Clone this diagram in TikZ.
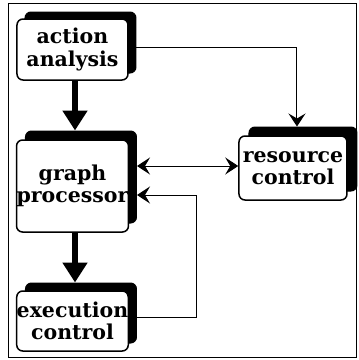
\documentclass[tikz,border=0pt]{standalone}
\usepackage{fontspec}
\setmainfont{DejaVu Serif}
\usetikzlibrary{arrows.meta,calc}

\tikzset{
  front/.style={draw=black, line width=1.5pt, fill=white, rounded corners=6pt,
    inner sep=0pt, align=center,
    font=\fontsize{20.5}{22.5}\selectfont\bfseries},
  backing/.style={fill=black, draw=black, line width=1pt, rounded corners=6pt, inner sep=0pt},
  heavy/.style={line width=6pt, -{Triangle[length=20pt,width=24pt]}},
  light/.style={line width=1pt, -{Stealth[length=13pt,width=17pt,inset=5pt]}},
  lightboth/.style={line width=1pt, {Stealth[length=13pt,width=17pt,inset=5pt]}-{Stealth[length=13pt,width=17pt,inset=5pt]}},
}

\begin{document}
\begin{tikzpicture}[x=1pt, y=-1pt]
  \useasboundingbox (0,0) rectangle (359,360);
  % outer frame
  \draw[line width=0.8pt] (8,3) rectangle (356.5,357.5);

  % shadow plates behind each box
  \node[backing, minimum width=111pt, minimum height=61pt] (aash) at (80.5,42.5) {};
  \node[backing, minimum width=111pt, minimum height=92pt] (gpsh) at (81,177) {};
  \node[backing, minimum width=111pt, minimum height=60pt] (ecsh) at (81,313) {};
  \node[backing, minimum width=108pt, minimum height=64pt] (rcsh) at (303,159) {};

  % front boxes
  \node[front, minimum width=111pt, minimum height=61pt] (aa) at (72.5,49.5) {action\\analysis};
  \node[front, minimum width=111pt, minimum height=92pt] (gp) at (72.5,186) {graph\\processor};
  \node[front, minimum width=111pt, minimum height=60pt] (ec) at (72.5,321) {execution\\control};
  \node[front, minimum width=108pt, minimum height=64pt] (rc) at (293,168) {resource\\control};

  % heavy control flow
  \draw[heavy] ([xshift=2.5pt]aa.south) -- ([xshift=2.5pt]aa.south |- gpsh.north);
  \draw[heavy] ([xshift=2.5pt]gp.south) -- ([xshift=2.5pt]gp.south |- ecsh.north);

  % light links
  \coordinate (rcin) at ([xshift=-6pt]rcsh.north);
  \draw[light] ([yshift=2.5pt]aa.east) -| (rcin);
  \draw[lightboth] ([yshift=2pt]gpsh.east |- rc.west) -- ([yshift=2pt]rc.west);
  \coordinate (fb) at (197,195);
  \draw[light] ([yshift=4pt]ec.east) -| (fb) -- (fb -| gpsh.east);
\end{tikzpicture}
\end{document}
